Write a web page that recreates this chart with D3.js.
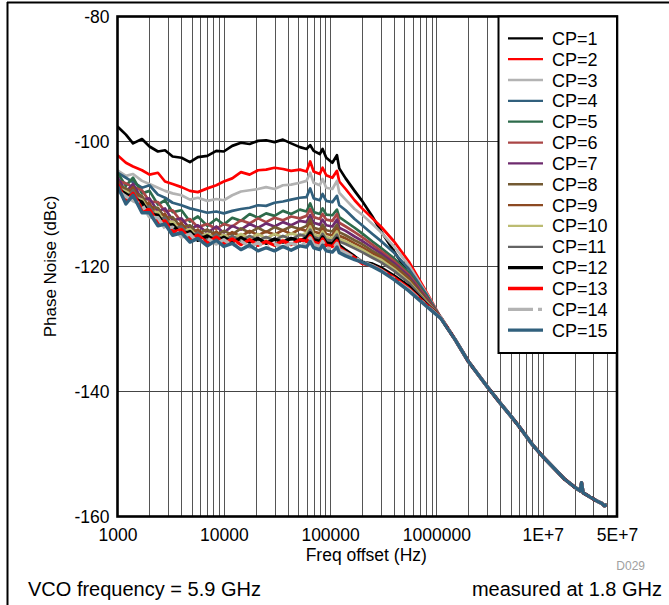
<!DOCTYPE html>
<html>
<head>
<meta charset="utf-8">
<script src="https://cdn.jsdelivr.net/npm/d3@7"></script>
<style>
  body { margin: 0; background: #fff; }
  svg { display: block; }
  text { font-family: "Liberation Sans", Arial, sans-serif; }
</style>
</head>
<body>
<div id="chart"></div>
<script>
var width = 669;
var height = 605;

// offset frequencies (Hz) for the part where the curves differ
var freqs = [1000, 1200, 1400, 1700, 2000, 2400, 2800, 3300, 4000, 4800, 5700, 7000, 8500,
    10000, 12000, 14500, 17500, 21000, 25000, 30000, 36000, 43000, 52000, 60000, 65000, 70000,
    80000, 85000, 92000, 105000, 116000, 122000, 140000, 170000, 200000, 250000, 300000,
    400000, 550000, 800000, 1100000];

// above ~1 MHz all curves sit on the same line
var tailFreqs = [1.5e6, 2e6, 3e6, 4e6, 5e6, 6e6, 8e6, 1e7, 1.3e7, 1.6e7, 2e7, 2.25e7, 2.32e7,
    2.4e7, 2.8e7, 3.3e7, 3.6e7, 3.8e7, 4.0e7];
var tailPN = [-131.7, -135.2, -139.2, -141.9, -143.9, -145.6, -148.5, -150.4, -152.4, -154.0,
    -155.3, -155.9, -154.6, -156.2, -156.9, -157.6, -157.9, -158.3, -158.1];

var cp1 = [-97.6,-98.9,-100.3,-99.6,-100.8,-101.6,-101.4,-102.4,-102.6,-103.3,-102.5,-102.3,-101.5,-101.6,-100.7,-100.2,-100.4,-99.9,-99.8,-100.1,-99.7,-100.3,-100.9,-101.2,-100.6,-101.5,-102.0,-101.2,-102.6,-103.4,-102.2,-104.3,-105.9,-107.9,-109.5,-112.0,-114.3,-117.6,-121.2,-125.0,-128.3];
var cp2 = [-102.2,-103.4,-104.0,-104.6,-105.3,-105.0,-106.4,-106.8,-107.3,-107.9,-108.1,-107.5,-107.0,-106.4,-105.9,-104.9,-105.3,-104.6,-104.5,-104.2,-104.4,-104.7,-104.5,-104.8,-103.2,-104.8,-105.2,-104.2,-105.4,-105.8,-104.7,-106.4,-107.6,-109.4,-110.7,-112.3,-113.6,-116.0,-119.2,-124.0,-128.2];
var cp3 = [-104.6,-105.5,-105.2,-106.3,-106.8,-107.4,-107.9,-108.3,-108.6,-109.3,-109.0,-109.5,-109.2,-109.4,-108.6,-108.0,-107.8,-107.6,-107.3,-107.6,-107.0,-106.9,-106.6,-106.3,-105.0,-106.6,-107.0,-106.0,-107.4,-107.6,-106.3,-108.2,-109.3,-110.8,-111.7,-113.2,-114.5,-116.8,-119.8,-124.2,-128.2];
var cp4 = [-105.0,-105.8,-106.5,-107.4,-107.0,-108.5,-109.0,-109.8,-110.2,-110.7,-111.0,-111.4,-111.2,-111.5,-111.1,-110.8,-110.6,-110.2,-110.3,-109.8,-109.6,-109.3,-109.0,-108.9,-107.5,-109.1,-109.4,-108.4,-109.5,-109.7,-108.7,-110.2,-111.0,-112.4,-113.4,-114.8,-115.9,-117.8,-120.4,-124.4,-128.2];
var cp5 = [-105.0,-107.1,-105.8,-108.3,-107.9,-110.1,-109.4,-111.3,-111.0,-112.8,-112.0,-113.5,-112.4,-113.3,-112.2,-112.7,-111.6,-112.2,-111.5,-111.9,-111.1,-111.6,-110.9,-111.2,-109.9,-111.3,-111.6,-110.7,-111.7,-111.8,-110.9,-112.1,-112.8,-113.8,-114.7,-116.0,-117.0,-118.7,-121.0,-124.7,-128.2];
var cp6 = [-106.3,-106.7,-107.3,-107.8,-109.6,-109.7,-111.2,-111.0,-112.9,-112.4,-113.7,-113.2,-114.0,-113.2,-113.6,-112.6,-113.1,-112.3,-112.9,-112.2,-112.6,-112.0,-112.3,-111.9,-110.8,-112.1,-112.4,-111.6,-112.5,-112.7,-111.6,-113.0,-113.6,-114.5,-115.3,-116.5,-117.5,-119.1,-121.3,-124.9,-128.2];
var cp7 = [-105.7,-108.1,-106.8,-109.3,-109.1,-111.2,-110.7,-112.6,-112.3,-114.0,-113.4,-114.6,-113.6,-114.6,-113.5,-114.1,-113.2,-113.8,-113.1,-113.6,-112.9,-113.4,-112.7,-112.9,-111.8,-113.0,-113.3,-112.5,-113.4,-113.6,-112.5,-113.8,-114.3,-115.2,-115.9,-117.0,-117.9,-119.5,-121.6,-125.1,-128.2];
var cp8 = [-107.0,-107.5,-108.1,-108.7,-110.5,-110.6,-112.2,-112.1,-113.8,-113.4,-114.7,-114.1,-115.0,-114.3,-114.9,-113.9,-114.6,-113.8,-114.5,-113.7,-114.2,-113.6,-114.0,-113.5,-112.4,-113.8,-114.1,-113.3,-114.2,-114.4,-113.3,-114.5,-115.0,-115.8,-116.4,-117.5,-118.3,-119.8,-121.9,-125.3,-128.2];
var cp9 = [-106.2,-108.8,-107.3,-110.0,-109.9,-112.0,-111.6,-113.5,-113.1,-114.7,-114.1,-115.4,-114.4,-115.4,-114.5,-115.2,-114.3,-115.0,-114.4,-114.9,-114.2,-114.8,-114.0,-114.3,-113.1,-114.4,-114.7,-113.9,-114.8,-115.0,-113.9,-115.1,-115.5,-116.3,-116.9,-117.9,-118.6,-120.1,-122.1,-125.4,-128.2];
var cp10 = [-107.4,-108.0,-108.7,-109.3,-111.2,-111.3,-112.9,-112.8,-114.4,-114.0,-115.4,-114.7,-115.6,-114.9,-115.6,-114.8,-115.5,-114.8,-115.5,-114.8,-115.3,-114.7,-115.1,-114.6,-113.6,-114.9,-115.2,-114.4,-115.3,-115.5,-114.4,-115.6,-116.0,-116.7,-117.3,-118.3,-118.9,-120.4,-122.4,-125.6,-128.2];
var cp11 = [-106.5,-109.2,-107.8,-110.5,-110.4,-112.5,-112.2,-114.0,-113.6,-115.2,-114.6,-115.8,-114.9,-115.9,-115.1,-115.9,-115.1,-115.8,-115.3,-115.8,-115.1,-115.7,-114.9,-115.2,-114.1,-115.3,-115.6,-114.8,-115.7,-115.9,-114.9,-116.0,-116.4,-117.1,-117.7,-118.6,-119.3,-120.7,-122.6,-125.7,-128.2];
var cp12 = [-107.6,-108.4,-109.1,-109.7,-111.7,-111.8,-113.5,-113.3,-114.9,-114.4,-115.8,-115.1,-116.0,-115.3,-116.2,-115.4,-116.1,-115.5,-116.3,-115.6,-116.1,-115.5,-115.9,-115.4,-114.6,-115.7,-116.0,-115.3,-116.2,-116.4,-115.5,-116.6,-117.4,-118.4,-119.3,-119.6,-120.2,-121.5,-123.2,-126.0,-128.2];
var cp13 = [-106.8,-109.6,-108.3,-110.9,-110.9,-113.0,-112.7,-114.5,-114.1,-115.6,-115.0,-116.2,-115.3,-116.3,-115.6,-116.5,-115.7,-116.6,-116.0,-116.6,-115.9,-116.5,-115.7,-116.0,-115.1,-116.1,-116.4,-115.6,-116.6,-116.8,-115.9,-117.0,-117.7,-118.6,-119.5,-119.9,-120.5,-121.8,-123.5,-126.1,-128.2];
var cp14 = [-107.9,-108.8,-109.5,-110.1,-112.1,-112.2,-113.9,-113.7,-115.3,-114.8,-116.2,-115.5,-116.4,-115.7,-116.7,-115.9,-116.9,-116.2,-117.1,-116.4,-116.9,-116.3,-116.7,-116.2,-115.4,-116.5,-116.8,-116.0,-117.0,-117.2,-116.3,-117.3,-117.8,-118.6,-119.2,-119.9,-120.6,-122.0,-123.7,-126.2,-128.2];
var cp15 = [-107.1,-110.0,-108.6,-111.4,-111.4,-113.5,-113.2,-115.0,-114.6,-116.1,-115.5,-116.7,-115.8,-116.8,-116.3,-117.3,-116.6,-117.5,-117.0,-117.5,-116.8,-117.4,-116.7,-116.9,-116.0,-117.0,-117.3,-116.6,-117.5,-117.7,-116.9,-117.8,-118.3,-118.9,-119.3,-120.0,-120.7,-122.1,-123.9,-126.3,-128.3];

var seriesNames = ["CP=1","CP=2","CP=3","CP=4","CP=5","CP=6","CP=7","CP=8","CP=9","CP=10",
    "CP=11","CP=12","CP=13","CP=14","CP=15"];
var seriesValues = [cp1, cp2, cp3, cp4, cp5, cp6, cp7, cp8, cp9, cp10, cp11, cp12, cp13, cp14, cp15];
var seriesColors = ["#000000","#ff0000","#b3b3b3","#31607d","#2d6b4b","#aa4646","#6e2b6e",
    "#735a33","#8c4a22","#bcbc72","#646464","#000000","#ff0000","#b3b3b3","#31607d"];

var xTickValues = [1000, 10000, 100000, 1000000, 1e7, 5e7];
var xTickLabels = ["1000", "10000", "100000", "1000000", "1E+7", "5E+7"];
var yTickValues = [-80, -100, -120, -140, -160];

var plotLeft = 117.5, plotRight = 617, plotTop = 16.5, plotBottom = 516.5;

var xScale = d3.scaleLog().domain([1000, 5e7]).range([plotLeft, plotRight]);
var yScale = d3.scaleLinear().domain([-160, -80]).range([plotBottom, plotTop]);

var svg = d3.select("#chart")
    .append("svg")
    .attr("width", width)
    .attr("height", height);

// outer frame (left and top edges show)
svg.append("line")
    .attr("x1", 7.5).attr("x2", 7.5).attr("y1", 2).attr("y2", height)
    .attr("stroke", "#000").attr("stroke-width", 2);
svg.append("line")
    .attr("x1", 7).attr("x2", width).attr("y1", 2.5).attr("y2", 2.5)
    .attr("stroke", "#000").attr("stroke-width", 2);

// grid
var minorTicks = xScale.ticks().filter(function(d) { return d > 1000 && d < 5e7; });
svg.append("g")
    .selectAll("line")
    .data(minorTicks)
    .enter()
    .append("line")
    .attr("x1", function(d) { return Math.round(xScale(d)) + 0.5; })
    .attr("x2", function(d) { return Math.round(xScale(d)) + 0.5; })
    .attr("y1", plotTop).attr("y2", plotBottom)
    .attr("stroke", "#555").attr("stroke-width", 1);

svg.append("g")
    .selectAll("line")
    .data(yTickValues.slice(1, 4))
    .enter()
    .append("line")
    .attr("x1", plotLeft).attr("x2", plotRight)
    .attr("y1", function(d) { return yScale(d); })
    .attr("y2", function(d) { return yScale(d); })
    .attr("stroke", "#444").attr("stroke-width", 1);

svg.append("clipPath").attr("id", "clip")
    .append("rect")
    .attr("x", plotLeft).attr("y", plotTop)
    .attr("width", plotRight - plotLeft).attr("height", plotBottom - plotTop);

var line = d3.line()
    .x(function(d) { return xScale(d[0]); })
    .y(function(d) { return yScale(d[1]); });

var curves = seriesValues.map(function(vals) {
    var pts = freqs.map(function(f, i) { return [f, vals[i]]; });
    return pts.concat(tailFreqs.map(function(f, i) { return [f, tailPN[i]]; }));
});

svg.append("g")
    .attr("clip-path", "url(#clip)")
    .selectAll("path")
    .data(curves)
    .enter()
    .append("path")
    .attr("d", line)
    .attr("fill", "none")
    .attr("stroke", function(d, i) { return seriesColors[i]; })
    .attr("stroke-width", function(d, i) { return i >= 11 ? 3.4 : 2.7; })
    .attr("stroke-dasharray", function(d, i) { return i == 13 ? "25,5,4,5" : null; })
    .attr("stroke-linejoin", "round");

// plot frame
svg.append("rect")
    .attr("x", plotLeft).attr("y", plotTop)
    .attr("width", plotRight - plotLeft).attr("height", plotBottom - plotTop)
    .attr("fill", "none").attr("stroke", "#000").attr("stroke-width", 2.6);

// axes
var xAxis = d3.axisBottom(xScale)
    .tickValues(xTickValues)
    .tickFormat(function(d, i) { return xTickLabels[i]; })
    .tickSize(0)
    .tickPadding(12);
var gx = svg.append("g")
    .attr("transform", "translate(0," + plotBottom + ")")
    .call(xAxis);
gx.select(".domain").remove();
gx.selectAll("text")
    .style("font-size", "17.5px")
    .style("font-family", "'Liberation Sans', Arial, sans-serif")
    .attr("fill", "#000");

var yAxis = d3.axisLeft(yScale)
    .tickValues(yTickValues)
    .tickFormat(function(d) { return String(d); })
    .tickSize(0)
    .tickPadding(8);
var gy = svg.append("g")
    .attr("transform", "translate(" + plotLeft + ",0)")
    .call(yAxis);
gy.select(".domain").remove();
gy.selectAll("text")
    .style("font-size", "17.5px")
    .style("font-family", "'Liberation Sans', Arial, sans-serif")
    .attr("fill", "#000");

svg.append("text")
    .attr("transform", "translate(56," + ((plotTop + plotBottom) / 2) + ") rotate(-90)")
    .attr("text-anchor", "middle")
    .style("font-size", "17px")
    .text("Phase Noise (dBc)");

svg.append("text")
    .attr("x", (plotLeft + plotRight) / 2 - 1)
    .attr("y", 561)
    .attr("text-anchor", "middle")
    .style("font-size", "17.5px")
    .text("Freq offset (Hz)");

svg.append("text")
    .attr("x", 645).attr("y", 570)
    .attr("text-anchor", "end")
    .attr("fill", "#a0a0a0")
    .style("font-size", "12px")
    .text("D029");

svg.append("text")
    .attr("x", 28).attr("y", 596)
    .style("font-size", "20px")
    .text("VCO frequency = 5.9 GHz");

svg.append("text")
    .attr("x", 662).attr("y", 596)
    .attr("text-anchor", "end")
    .style("font-size", "20px")
    .text("measured at 1.8 GHz");

// legend
var legend = svg.append("g");
legend.append("rect")
    .attr("x", 498.5).attr("y", plotTop)
    .attr("width", plotRight - 498.5).attr("height", 353 - plotTop)
    .attr("fill", "#fff").attr("stroke", "#000").attr("stroke-width", 2);

var rows = legend.selectAll("g.row")
    .data(seriesNames)
    .enter()
    .append("g")
    .attr("class", "row")
    .attr("transform", function(d, i) { return "translate(0," + (38.3 + i * 20.85) + ")"; });

rows.append("line")
    .attr("x1", 508).attr("x2", 543)
    .attr("stroke", function(d, i) { return seriesColors[i]; })
    .attr("stroke-width", function(d, i) { return i >= 11 ? 3.3 : 2.3; })
    .attr("stroke-dasharray", function(d, i) { return i == 13 ? "25,5,4,5" : null; });

rows.append("text")
    .attr("x", 552).attr("y", 6.5)
    .style("font-size", "18px")
    .text(function(d) { return d; });
</script>
</body>
</html>
